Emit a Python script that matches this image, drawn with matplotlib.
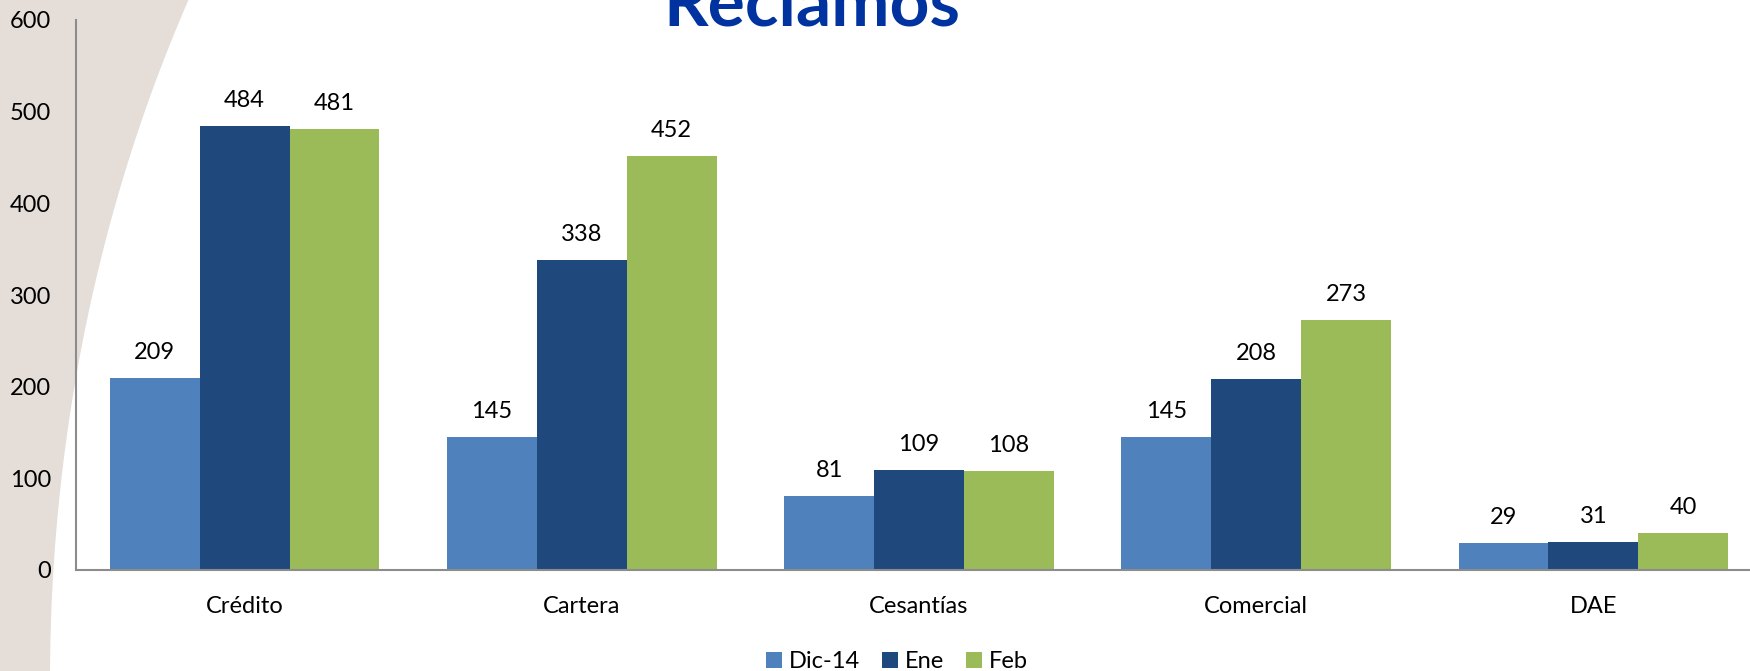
import matplotlib

matplotlib.use("Agg")
import matplotlib.pyplot as plt
import numpy as np
from matplotlib.patches import Polygon

categories = ["Crédito", "Cartera", "Cesantías", "Comercial", "DAE"]
series_names = ["Dic-14", "Ene", "Feb"]
dic14 = [209, 145, 81, 145, 29]
ene = [484, 338, 109, 208, 31]
feb = [481, 452, 108, 273, 40]
y_ticks = [0, 100, 200, 300, 400, 500, 600]

COLORS = ["#4F81BD", "#1F497D", "#9BBB59"]
SAND = "#E4DDD8"
AXIS_GREY = "#8C8C8C"
TITLE_BLUE = "#0033A0"
FONT_SIZE = 17

plt.rcParams["font.family"] = ["Lato", "DejaVu Sans"]

W, H = 1750, 671
fig = plt.figure(figsize=(W / 100, H / 100), dpi=100)

# sand-coloured sweep along the left edge, drawn in pixel space
bg = fig.add_axes([0, 0, 1, 1], zorder=0)
bg.set_xlim(0, W)
bg.set_ylim(H, 0)
bg.axis("off")
yy = np.linspace(0, H, 200)
a, b, y0 = 1100, 1400, 680
xx = 50 + a * (1 - np.sqrt(1 - ((y0 - yy) / b) ** 2))
outline = np.column_stack([np.r_[0, xx, 0], np.r_[0, yy, H]])
bg.add_patch(Polygon(outline, closed=True, facecolor=SAND, edgecolor="none"))

ax = fig.add_axes([76 / W, 101 / H, 1686 / W, 550 / H], zorder=1)
ax.patch.set_alpha(0)

x = np.arange(len(categories))
width = 0.8 / 3
for i, (values, name, color) in enumerate(zip([dic14, ene, feb], series_names, COLORS)):
    bars = ax.bar(x + (i - 1) * width, values, width, color=color, label=name, zorder=2)
    for rect, value in zip(bars, values):
        ax.annotate(
            str(value),
            (rect.get_x() + rect.get_width() / 2, value),
            xytext=(0, 19 * 0.72),
            textcoords="offset points",
            ha="center",
            va="baseline",
            fontsize=FONT_SIZE,
        )

ax.set_xlim(-0.5, len(categories) - 0.5)
ax.set_ylim(0, 600)
ax.set_xticks(x, categories)
ax.set_yticks(y_ticks)
ax.tick_params(axis="both", length=0, labelsize=FONT_SIZE)
ax.tick_params(axis="y", pad=18)
ax.tick_params(axis="x", pad=18.5)

for side in ("top", "right"):
    ax.spines[side].set_visible(False)
for side in ("left", "bottom"):
    ax.spines[side].set_color(AXIS_GREY)
    ax.spines[side].set_linewidth(1.5)

handles, labels = ax.get_legend_handles_labels()
fig.legend(
    handles,
    labels,
    loc="center",
    bbox_to_anchor=(897 / W, 1 - 662 / H),
    ncol=3,
    frameon=False,
    fontsize=FONT_SIZE,
    handlelength=0.65,
    handleheight=0.65,
    handletextpad=0.3,
    columnspacing=0.95,
)

fig.text(
    812 / W,
    1 - 25 / H,
    "Reclamos",
    ha="center",
    va="baseline",
    fontsize=50,
    fontweight="bold",
    color=TITLE_BLUE,
)

fig.savefig("out.png", dpi=100)
plt.close(fig)
